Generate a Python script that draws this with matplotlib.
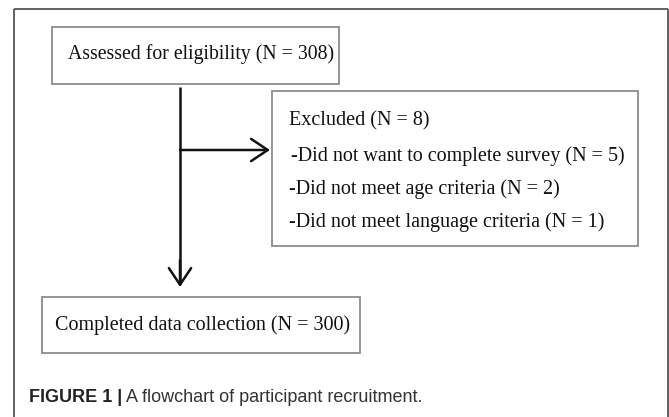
import matplotlib
matplotlib.use("Agg")
import matplotlib.pyplot as plt
from matplotlib.patches import Rectangle, FancyArrowPatch

# ---- content ----
box_top_text = "Assessed for eligibility (N = 308)"
excluded_lines = [
    "Excluded (N = 8)",
    "-Did not want to complete survey (N = 5)",
    "-Did not meet age criteria (N = 2)",
    "-Did not meet language criteria (N = 1)",
]
box_bottom_text = "Completed data collection (N = 300)"
caption_bold = "FIGURE 1 |"
caption_rest = " A flowchart of participant recruitment."

W, H = 669, 417
fig = plt.figure(figsize=(W / 100, H / 100), dpi=100)
ax = fig.add_axes([0, 0, 1, 1])
ax.set_xlim(0, W)
ax.set_ylim(H, 0)
ax.axis("off")

serif = ["Liberation Serif", "DejaVu Serif"]
box_edge = "#8c8c8c"
frame_col = "#555555"

# outer frame (top, left, right)
ax.plot([14, 668], [9, 9], color=frame_col, lw=1.3, solid_capstyle="butt")
ax.plot([14, 14], [9, H + 2], color=frame_col, lw=1.3, solid_capstyle="butt")
ax.plot([668, 668], [9, H + 2], color=frame_col, lw=1.3, solid_capstyle="butt")

def box(x0, y0, x1, y1):
    ax.add_patch(Rectangle((x0, y0), x1 - x0, y1 - y0, fill=False,
                           edgecolor=box_edge, lw=1.3))

# boxes
box(52, 27, 339, 84)
box(272, 91, 638, 246)
box(42, 297, 360, 353)

fs = 14.5
ax.text(68, 54, box_top_text, fontsize=14.2, family=serif, va="center", ha="left", color="#111111")
ys = [121, 156, 189, 222]
xs = [289, 291, 289, 289]
for t, x, y in zip(excluded_lines, xs, ys):
    ax.text(x, y, t, fontsize=fs, family=serif, va="center", ha="left", color="#111111")
ax.text(55, 325, box_bottom_text, fontsize=fs, family=serif, va="center", ha="left", color="#111111")

# connectors
ax.plot([180, 180], [87, 284], color="#111111", lw=1.8, solid_capstyle="butt")
arrow_kw = dict(arrowstyle="->,head_length=6,head_width=4", color="#111111", lw=1.8,
                shrinkA=0, shrinkB=0, mutation_scale=2)
ax.add_patch(FancyArrowPatch((180, 150), (270, 150), **arrow_kw))
ax.add_patch(FancyArrowPatch((180, 260), (180, 287), **arrow_kw))

# caption
t1 = ax.text(29, 398, caption_bold, fontsize=13, family=["Liberation Sans", "DejaVu Sans"],
             fontweight="bold", va="center", ha="left", color="#222222")
fig.canvas.draw()
bb = t1.get_window_extent()
x_end = ax.transData.inverted().transform((bb.x1, bb.y0))[0]
ax.text(x_end, 398, caption_rest, fontsize=13, family=["Liberation Sans", "DejaVu Sans"],
        va="center", ha="left", color="#333333")

fig.savefig("out.png", dpi=100)
